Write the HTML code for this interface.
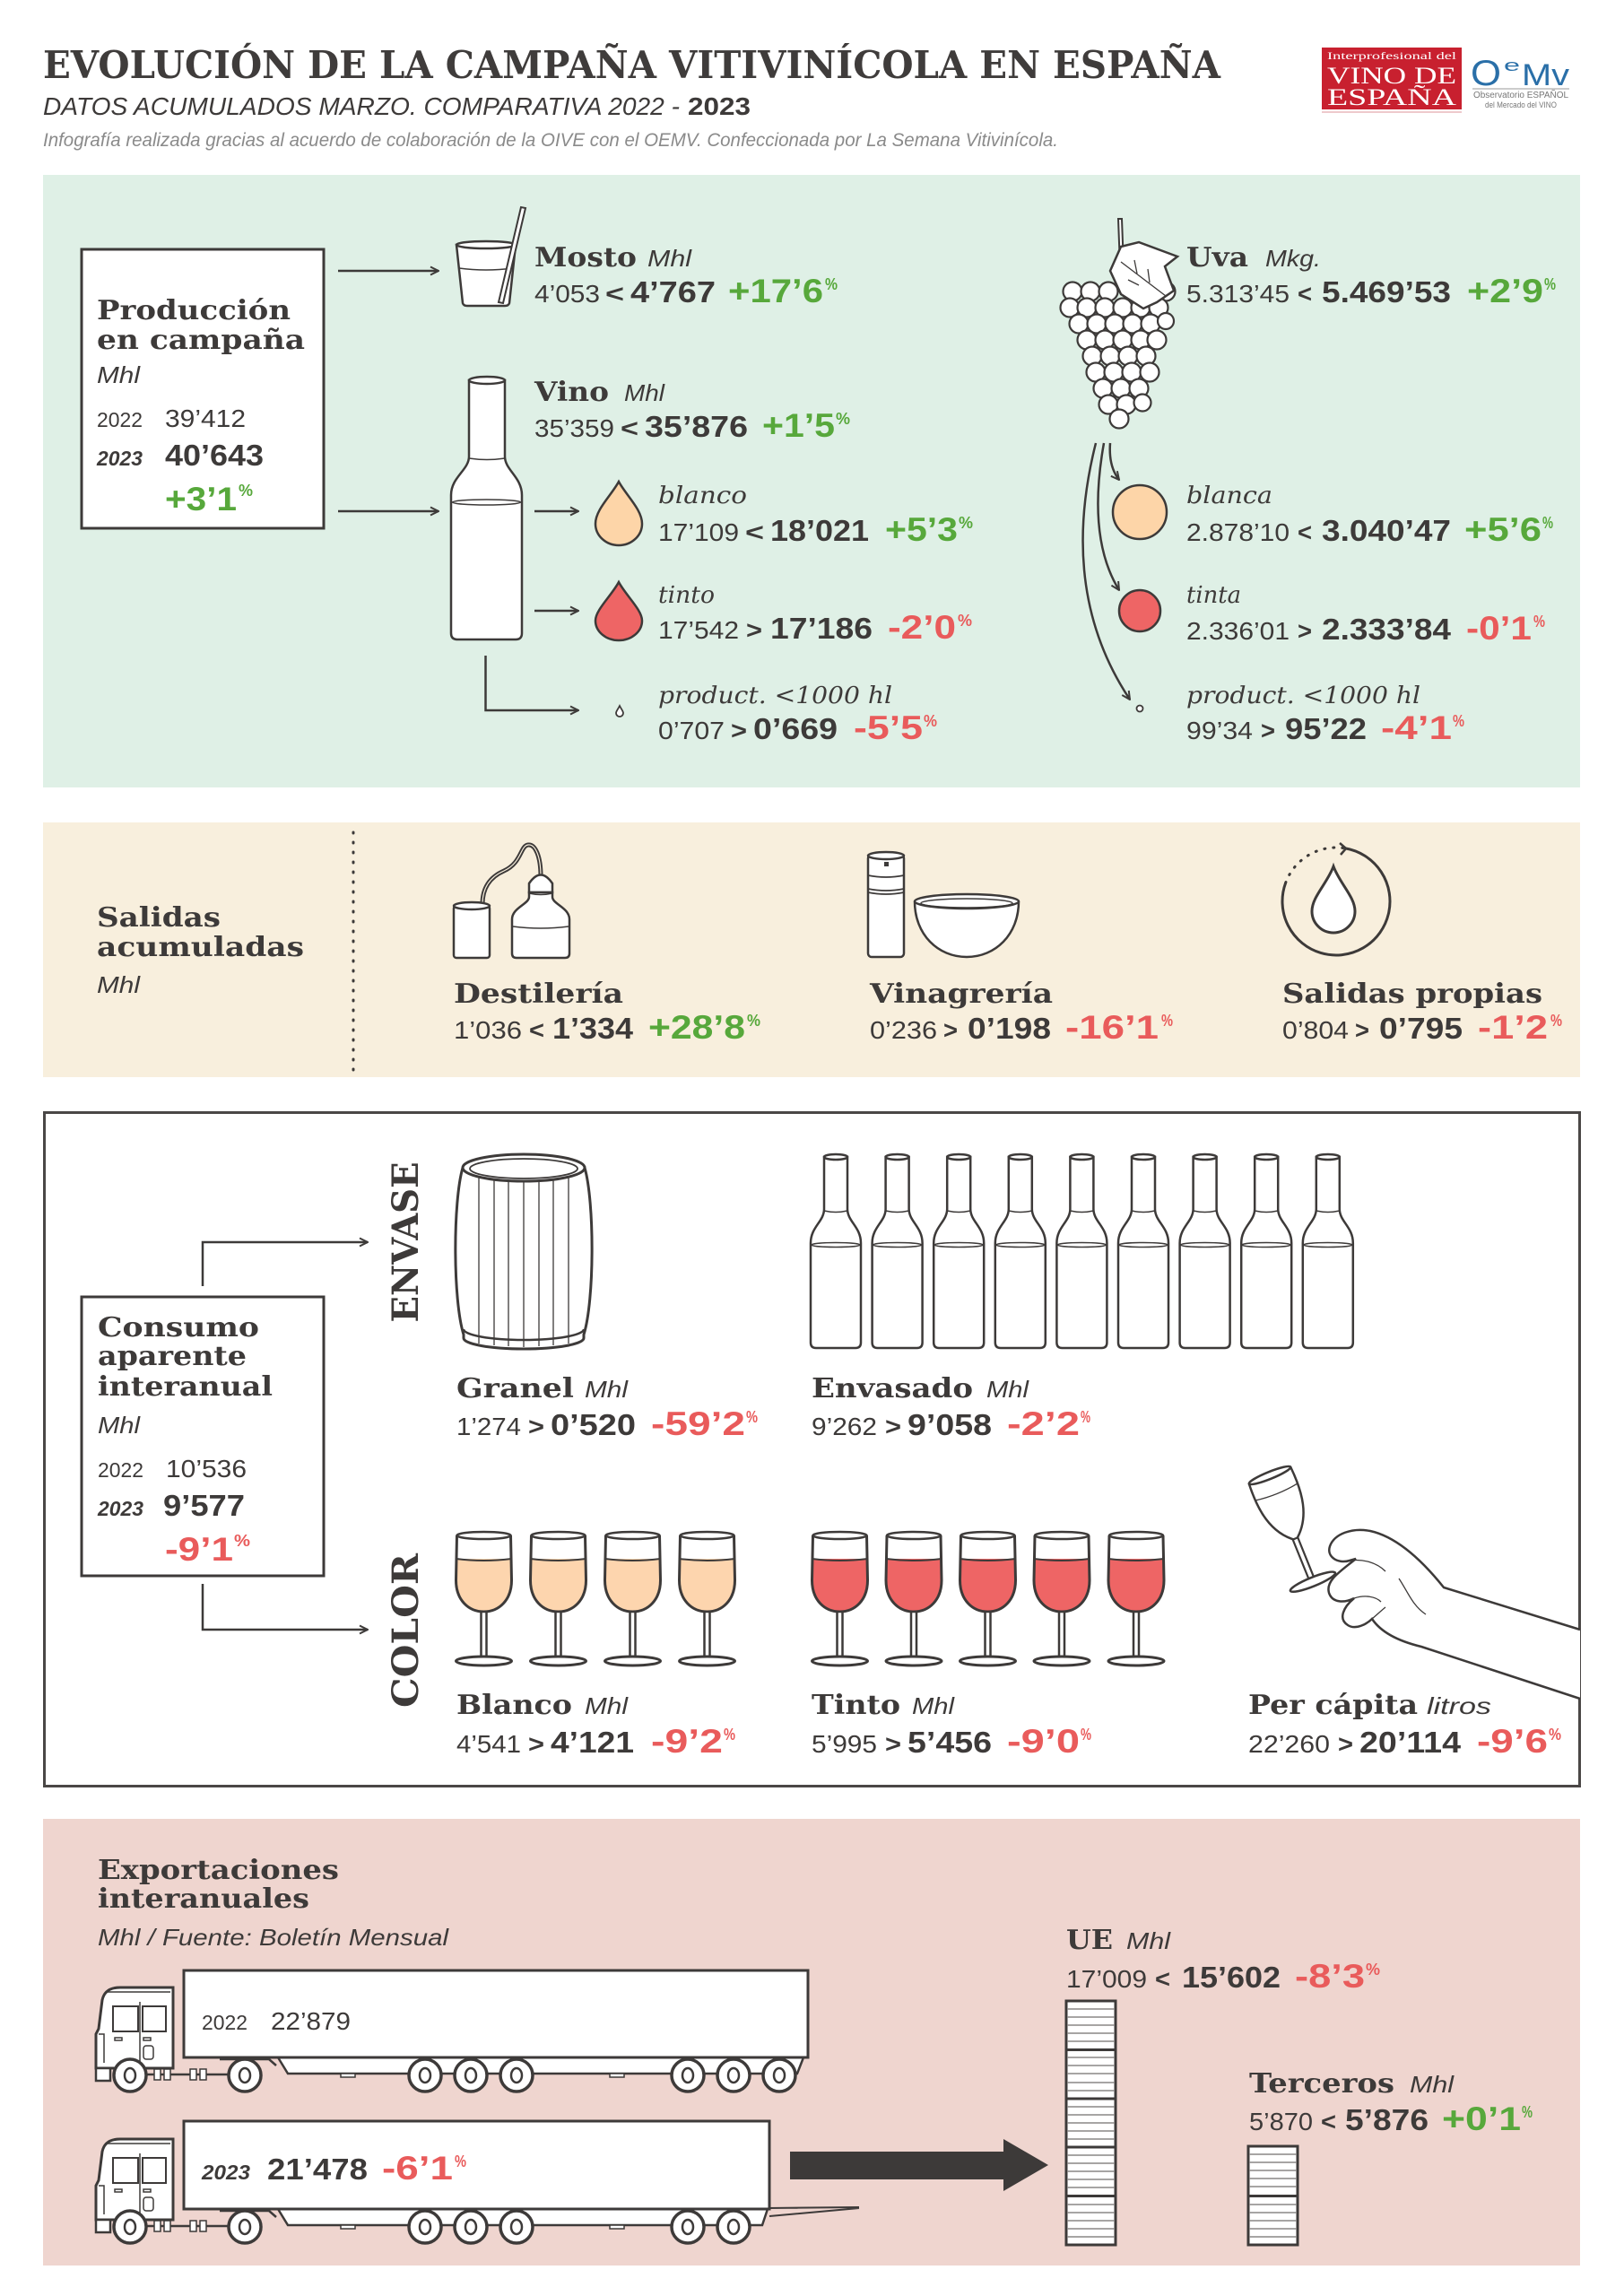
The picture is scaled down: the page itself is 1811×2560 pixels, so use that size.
<!DOCTYPE html>
<html><head><meta charset="utf-8">
<style>
html,body{margin:0;padding:0;background:#fff;overflow:hidden;}
svg{display:block;}
.h{font-family:"DejaVu Serif","Liberation Serif",serif;font-weight:bold;font-size:30px;fill:#3d3a39;}
.u{font-family:"Liberation Sans Narrow","Liberation Sans",sans-serif;font-style:italic;font-size:26px;fill:#3d3a39;}
.si{font-family:"DejaVu Serif","Liberation Serif",serif;font-style:italic;font-size:26px;fill:#3d3a39;}
.l{font-family:"Liberation Sans Narrow","Liberation Sans",sans-serif;font-size:28px;fill:#3d3a39;}
.s{font-family:"Liberation Sans Narrow","Liberation Sans",sans-serif;font-weight:bold;font-size:28px;fill:#3d3a39;}
.b{font-family:"Liberation Sans Narrow","Liberation Sans",sans-serif;font-weight:bold;font-size:33px;fill:#3d3a39;}
.g{font-family:"Liberation Sans Narrow","Liberation Sans",sans-serif;font-weight:bold;font-size:37px;fill:#57a83b;}
.r{font-family:"Liberation Sans Narrow","Liberation Sans",sans-serif;font-weight:bold;font-size:37px;fill:#e95b5b;}
.pg{font-family:"Liberation Sans Narrow","Liberation Sans",sans-serif;font-weight:bold;font-size:18px;fill:#57a83b;}
.pr{font-family:"Liberation Sans Narrow","Liberation Sans",sans-serif;font-weight:bold;font-size:18px;fill:#e95b5b;}
.yl{font-family:"Liberation Sans Narrow","Liberation Sans",sans-serif;font-size:23px;fill:#3d3a39;}
.yb{font-family:"Liberation Sans Narrow","Liberation Sans",sans-serif;font-weight:bold;font-style:italic;font-size:23px;fill:#3d3a39;}
.st{fill:none;stroke:#3d3a39;stroke-width:2.5;}
.sw{fill:#fff;stroke:#3d3a39;stroke-width:2.5;}
</style></head>
<body>
<svg width="1811" height="2560" viewBox="0 0 1811 2560" xmlns="http://www.w3.org/2000/svg">
<defs>
<marker id="ah" viewBox="0 0 12 12" refX="11" refY="6" markerWidth="12" markerHeight="12" markerUnits="userSpaceOnUse" orient="auto">
<path d="M2,1.5 L11,6 L2,10.5" fill="none" stroke="#3d3a39" stroke-width="2"/>
</marker>
<g id="bt">
<path d="M15,1290 L15,1348 C15,1362 0,1368 0,1386 L0,1497 Q0,1503 6,1503 L50,1503 Q56,1503 56,1497 L56,1386 C56,1368 41,1362 41,1348 L41,1290 Z" fill="#fff" stroke="#3d3a39" stroke-width="2.5"/>
<ellipse cx="28" cy="1290" rx="13" ry="3" fill="#fff" stroke="#3d3a39" stroke-width="2.5"/>
<path d="M15,1350 Q28,1353 41,1350" fill="none" stroke="#3d3a39" stroke-width="1.5"/>
<ellipse cx="28" cy="1388" rx="27" ry="2.5" fill="none" stroke="#3d3a39" stroke-width="1.5"/>
</g>
<g id="gw">
<path d="M-31,1738 L-31,1762 C-31,1784 -17,1797 0,1797 C17,1797 31,1784 31,1762 L31,1738 Z" fill="#fdd5ae"/>
<path d="M-31,1738 Q0,1742 31,1738" fill="none" stroke="#3d3a39" stroke-width="2"/>
<path d="M-30,1712 L-31,1762 C-31,1784 -17,1797 0,1797 C17,1797 31,1784 31,1762 L30,1712" fill="none" stroke="#3d3a39" stroke-width="3"/>
<ellipse cx="0" cy="1712" rx="30" ry="4" fill="#fff" stroke="#3d3a39" stroke-width="2.5"/>
<rect x="-3" y="1797" width="6" height="52" fill="#fff" stroke="#3d3a39" stroke-width="2.5"/>
<ellipse cx="0" cy="1852" rx="31" ry="5" fill="#fff" stroke="#3d3a39" stroke-width="3"/>
</g>
<g id="gr">
<path d="M-31,1738 L-31,1762 C-31,1784 -17,1797 0,1797 C17,1797 31,1784 31,1762 L31,1738 Z" fill="#ee6565"/>
<path d="M-31,1738 Q0,1742 31,1738" fill="none" stroke="#3d3a39" stroke-width="2"/>
<path d="M-30,1712 L-31,1762 C-31,1784 -17,1797 0,1797 C17,1797 31,1784 31,1762 L30,1712" fill="none" stroke="#3d3a39" stroke-width="3"/>
<ellipse cx="0" cy="1712" rx="30" ry="4" fill="#fff" stroke="#3d3a39" stroke-width="2.5"/>
<rect x="-3" y="1797" width="6" height="52" fill="#fff" stroke="#3d3a39" stroke-width="2.5"/>
<ellipse cx="0" cy="1852" rx="31" ry="5" fill="#fff" stroke="#3d3a39" stroke-width="3"/>
</g>
<g id="wh">
<circle cx="0" cy="0" r="18" fill="#fff" stroke="#3d3a39" stroke-width="3.5"/>
<ellipse cx="0" cy="0" rx="6" ry="8" fill="#fff" stroke="#3d3a39" stroke-width="2.5"/>
</g>
<g id="cab">
<path d="M193,2216 L134,2216 Q117,2216 114,2230 L110,2262 L107,2268 L107,2306 L193,2306 Z" fill="#fff" stroke="#3d3a39" stroke-width="3"/>
<path d="M120,2221 L190,2221" stroke="#3d3a39" stroke-width="1.5"/>
<rect x="126" y="2237" width="28" height="28" fill="#fff" stroke="#3d3a39" stroke-width="2"/>
<rect x="159" y="2237" width="26" height="28" fill="#fff" stroke="#3d3a39" stroke-width="2"/>
<path d="M156,2232 L156,2306" stroke="#3d3a39" stroke-width="1.5"/>
<rect x="128" y="2272" width="8" height="3" fill="none" stroke="#3d3a39" stroke-width="1.5"/>
<rect x="160" y="2272" width="8" height="3" fill="none" stroke="#3d3a39" stroke-width="1.5"/>
<rect x="160" y="2281" width="11" height="15" rx="3" fill="none" stroke="#3d3a39" stroke-width="1.5"/>
<path d="M110,2268 L116,2268 L116,2300" fill="none" stroke="#3d3a39" stroke-width="1.5"/>
<rect x="107" y="2306" width="16" height="14" fill="#fff" stroke="#3d3a39" stroke-width="2.5"/>
<path d="M163,2313 L255,2313" stroke="#3d3a39" stroke-width="2.5"/>
<rect x="172" y="2307" width="7" height="12" fill="#fff" stroke="#3d3a39" stroke-width="1.5"/>
<rect x="183" y="2307" width="7" height="12" fill="#fff" stroke="#3d3a39" stroke-width="1.5"/>
<rect x="212" y="2307" width="7" height="12" fill="#fff" stroke="#3d3a39" stroke-width="1.5"/>
<rect x="223" y="2307" width="7" height="12" fill="#fff" stroke="#3d3a39" stroke-width="1.5"/>
<path d="M245,2296 L300,2296 L308,2303" fill="none" stroke="#3d3a39" stroke-width="2.5"/>
<use href="#wh" x="145" y="2314"/>
<use href="#wh" x="273" y="2314"/>
</g>
</defs>

<!-- HEADER -->
<text x="48" y="87" font-family="DejaVu Serif, Liberation Serif, serif" font-weight="bold" font-size="42" fill="#3f3c3b" textLength="1313" lengthAdjust="spacingAndGlyphs">EVOLUCIÓN DE LA CAMPAÑA VITIVINÍCOLA EN ESPAÑA</text>
<text x="48" y="128" font-family="Liberation Sans Narrow, Liberation Sans, sans-serif" font-style="italic" font-size="28" fill="#3d3a39" textLength="710" lengthAdjust="spacingAndGlyphs">DATOS ACUMULADOS MARZO. COMPARATIVA 2022 -</text>
<text x="767" y="128" font-family="Liberation Sans Narrow, Liberation Sans, sans-serif" font-weight="bold" font-size="28" fill="#3d3a39" textLength="70" lengthAdjust="spacingAndGlyphs">2023</text>
<text x="48" y="163" font-family="Liberation Sans Narrow, Liberation Sans, sans-serif" font-style="italic" font-size="21" fill="#8a8a8a" textLength="1132" lengthAdjust="spacingAndGlyphs">Infografía realizada gracias al acuerdo de colaboración de la OIVE con el OEMV. Confeccionada por La Semana Vitivinícola.</text>

<!-- logos -->
<rect x="1474" y="53" width="156" height="69" fill="#c8202f"/>
<text x="1480" y="66" font-family="Liberation Serif, serif" font-size="12" fill="#fff" textLength="144" lengthAdjust="spacingAndGlyphs">Interprofesional del</text>
<text x="1480" y="93" font-family="Liberation Serif, serif" font-size="26" fill="#fff" textLength="144" lengthAdjust="spacingAndGlyphs">VINO DE</text>
<text x="1480" y="117" font-family="Liberation Serif, serif" font-size="26" fill="#fff" textLength="144" lengthAdjust="spacingAndGlyphs">ESPAÑA</text>
<path d="M1474,125 L1630,125" stroke="#e9b7bb" stroke-width="1.5"/>
<text x="1640" y="95" font-family="Liberation Sans, sans-serif" font-size="40" fill="#2a6fa8" textLength="34" lengthAdjust="spacingAndGlyphs">O</text>
<text x="1677" y="79" font-family="Liberation Sans, sans-serif" font-size="18" fill="#2a6fa8" textLength="18" lengthAdjust="spacingAndGlyphs">e</text>
<text x="1697" y="95" font-family="Liberation Sans, sans-serif" font-size="34" fill="#2a6fa8" textLength="53" lengthAdjust="spacingAndGlyphs">Mv</text>
<line x1="1642" y1="99" x2="1750" y2="99" stroke="#bbb" stroke-width="1.5"/>
<text x="1643" y="109" font-family="Liberation Sans Narrow, Liberation Sans, sans-serif" font-size="10" fill="#777" textLength="106" lengthAdjust="spacingAndGlyphs">Observatorio ESPAÑOL</text>
<text x="1656" y="120" font-family="Liberation Sans Narrow, Liberation Sans, sans-serif" font-size="9" fill="#777" textLength="80" lengthAdjust="spacingAndGlyphs">del Mercado del VINO</text>

<!-- SECTION 1 -->
<rect x="48" y="195" width="1714" height="683" fill="#dff0e6"/>
<rect x="91" y="278" width="270" height="311" fill="#fff" stroke="#3d3a39" stroke-width="3"/>
<text class="h" x="108" y="356" textLength="216" lengthAdjust="spacingAndGlyphs">Producción</text>
<text class="h" x="108" y="389" textLength="232" lengthAdjust="spacingAndGlyphs">en campaña</text>
<text class="u" x="108" y="427" textLength="48" lengthAdjust="spacingAndGlyphs">Mhl</text>
<text class="yl" x="108" y="476" textLength="51" lengthAdjust="spacingAndGlyphs">2022</text>
<text class="l" x="184" y="476" textLength="90" lengthAdjust="spacingAndGlyphs">39’412</text>
<text class="yb" x="108" y="519" textLength="51" lengthAdjust="spacingAndGlyphs">2023</text>
<text class="b" x="184" y="519" textLength="110" lengthAdjust="spacingAndGlyphs">40’643</text>
<text class="g" x="184" y="569" textLength="80" lengthAdjust="spacingAndGlyphs">+3’1</text>
<text class="pg" x="266" y="553" textLength="16" lengthAdjust="spacingAndGlyphs">%</text>

<line x1="377" y1="302" x2="489" y2="302" stroke="#3d3a39" stroke-width="2.5" marker-end="url(#ah)"/>
<line x1="377" y1="570" x2="489" y2="570" stroke="#3d3a39" stroke-width="2.5" marker-end="url(#ah)"/>

<!-- glass mosto -->
<path d="M509,273 L516,338 Q517,341 521,341 L563,341 Q567,341 568,338 L575,273 Z" fill="#fff" stroke="#3d3a39" stroke-width="2.5"/>
<path d="M512,299 Q542,303 572,299" fill="none" stroke="#3d3a39" stroke-width="1.5"/>
<ellipse cx="542" cy="273" rx="33" ry="4" fill="#fff" stroke="#3d3a39" stroke-width="2.5"/>
<path d="M581,231 L556,337 L561,338 L586,232 Z" fill="#fff" stroke="#3d3a39" stroke-width="2"/>

<!-- bottle vino -->
<path d="M523,424 L523,509 C523,524 503,532 503,552 L503,706 Q503,713 510,713 L575,713 Q582,713 582,706 L582,552 C582,532 563,524 563,509 L563,424 Z" fill="#fff" stroke="#3d3a39" stroke-width="2.5"/>
<ellipse cx="543" cy="424" rx="20" ry="4" fill="#fff" stroke="#3d3a39" stroke-width="2.5"/>
<path d="M523,511 Q543,514 563,511" fill="none" stroke="#3d3a39" stroke-width="1.5"/>
<ellipse cx="542.5" cy="560" rx="38" ry="3" fill="none" stroke="#3d3a39" stroke-width="1.5"/>

<line x1="596" y1="570" x2="645" y2="570" stroke="#3d3a39" stroke-width="2.5" marker-end="url(#ah)"/>
<line x1="596" y1="681" x2="645" y2="681" stroke="#3d3a39" stroke-width="2.5" marker-end="url(#ah)"/>
<polyline points="541.5,731 541.5,792 645,792" fill="none" stroke="#3d3a39" stroke-width="2.5" marker-end="url(#ah)"/>

<path d="M690,537 C682,552 664,568 664,584 A26,24 0 0 0 716,584 C716,568 698,552 690,537 Z" fill="#fdd5a8" stroke="#3d3a39" stroke-width="2.5"/>
<path d="M690,649 C682,664 664,680 664,692 A26,22 0 0 0 716,692 C716,680 698,664 690,649 Z" fill="#ee6565" stroke="#3d3a39" stroke-width="2.5"/>
<path d="M691,787 C689,791 687,793 687,795 A4,4 0 0 0 695,795 C695,793 693,791 691,787 Z" fill="#fff" stroke="#3d3a39" stroke-width="1.8"/>

<text class="h" x="596" y="297" textLength="114" lengthAdjust="spacingAndGlyphs">Mosto</text>
<text class="u" x="722" y="297" textLength="49" lengthAdjust="spacingAndGlyphs">Mhl</text>
<text class="l" x="596" y="337" textLength="73" lengthAdjust="spacingAndGlyphs">4’053</text>
<text class="s" x="675" y="337" textLength="21" lengthAdjust="spacingAndGlyphs">&lt;</text>
<text class="b" x="703" y="337" textLength="95" lengthAdjust="spacingAndGlyphs">4’767</text>
<text class="g" x="812" y="337" textLength="106" lengthAdjust="spacingAndGlyphs">+17’6</text>
<text class="pg" x="920" y="323" textLength="14" lengthAdjust="spacingAndGlyphs">%</text>

<text class="h" x="596" y="447" textLength="83" lengthAdjust="spacingAndGlyphs">Vino</text>
<text class="u" x="696" y="447" textLength="45" lengthAdjust="spacingAndGlyphs">Mhl</text>
<text class="l" x="596" y="487" textLength="89" lengthAdjust="spacingAndGlyphs">35’359</text>
<text class="s" x="692" y="487" textLength="20" lengthAdjust="spacingAndGlyphs">&lt;</text>
<text class="b" x="719" y="487" textLength="115" lengthAdjust="spacingAndGlyphs">35’876</text>
<text class="g" x="850" y="487" textLength="81" lengthAdjust="spacingAndGlyphs">+1’5</text>
<text class="pg" x="932" y="473" textLength="16" lengthAdjust="spacingAndGlyphs">%</text>

<text class="si" x="734" y="561" textLength="99" lengthAdjust="spacingAndGlyphs">blanco</text>
<text class="l" x="734" y="603" textLength="90" lengthAdjust="spacingAndGlyphs">17’109</text>
<text class="s" x="831" y="603" textLength="21" lengthAdjust="spacingAndGlyphs">&lt;</text>
<text class="b" x="859" y="603" textLength="110" lengthAdjust="spacingAndGlyphs">18’021</text>
<text class="g" x="987" y="603" textLength="81" lengthAdjust="spacingAndGlyphs">+5’3</text>
<text class="pg" x="1069" y="589" textLength="16" lengthAdjust="spacingAndGlyphs">%</text>

<text class="si" x="734" y="672" textLength="63" lengthAdjust="spacingAndGlyphs">tinto</text>
<text class="l" x="734" y="712" textLength="90" lengthAdjust="spacingAndGlyphs">17’542</text>
<text class="s" x="832" y="712" textLength="18" lengthAdjust="spacingAndGlyphs">&gt;</text>
<text class="b" x="859" y="712" textLength="114" lengthAdjust="spacingAndGlyphs">17’186</text>
<text class="r" x="990" y="712" textLength="76" lengthAdjust="spacingAndGlyphs">-2’0</text>
<text class="pr" x="1068" y="698" textLength="16" lengthAdjust="spacingAndGlyphs">%</text>

<text class="si" x="734" y="784" textLength="261" lengthAdjust="spacingAndGlyphs">product. &lt;1000 hl</text>
<text class="l" x="734" y="824" textLength="74" lengthAdjust="spacingAndGlyphs">0’707</text>
<text class="s" x="815" y="824" textLength="18" lengthAdjust="spacingAndGlyphs">&gt;</text>
<text class="b" x="840" y="824" textLength="94" lengthAdjust="spacingAndGlyphs">0’669</text>
<text class="r" x="952" y="824" textLength="77" lengthAdjust="spacingAndGlyphs">-5’5</text>
<text class="pr" x="1030" y="810" textLength="15" lengthAdjust="spacingAndGlyphs">%</text>

<!-- grapes -->
<path d="M1247,244 L1250,324 L1254,324 L1251,244 Z" fill="#fff" stroke="#3d3a39" stroke-width="2"/>
<g fill="#fff" stroke="#3d3a39" stroke-width="2.2">
<circle cx="1196" cy="325" r="10.5"/><circle cx="1216" cy="325" r="10.5"/><circle cx="1236" cy="325" r="10.5"/><circle cx="1280" cy="325" r="10.5"/><circle cx="1300" cy="325" r="10.5"/>
<circle cx="1193" cy="343" r="10.5"/><circle cx="1212" cy="343" r="10.5"/><circle cx="1232" cy="343" r="10.5"/><circle cx="1252" cy="343" r="10.5"/><circle cx="1272" cy="343" r="10.5"/><circle cx="1292" cy="343" r="10.5"/>
<circle cx="1203" cy="361" r="10.5"/><circle cx="1223" cy="361" r="10.5"/><circle cx="1243" cy="361" r="10.5"/><circle cx="1263" cy="361" r="10.5"/><circle cx="1283" cy="361" r="10.5"/><circle cx="1300" cy="358" r="9"/>
<circle cx="1212" cy="379" r="10.5"/><circle cx="1232" cy="379" r="10.5"/><circle cx="1252" cy="379" r="10.5"/><circle cx="1272" cy="379" r="10.5"/><circle cx="1290" cy="379" r="10.5"/>
<circle cx="1218" cy="397" r="10.5"/><circle cx="1238" cy="397" r="10.5"/><circle cx="1258" cy="397" r="10.5"/><circle cx="1278" cy="397" r="10.5"/>
<circle cx="1222" cy="415" r="10.5"/><circle cx="1242" cy="415" r="10.5"/><circle cx="1262" cy="415" r="10.5"/><circle cx="1282" cy="415" r="10.5"/>
<circle cx="1230" cy="433" r="10.5"/><circle cx="1250" cy="433" r="10.5"/><circle cx="1270" cy="433" r="10.5"/>
<circle cx="1236" cy="451" r="10.5"/><circle cx="1256" cy="451" r="10.5"/><circle cx="1274" cy="449" r="9.5"/>
<circle cx="1248" cy="467" r="10.5"/>
</g>
<path d="M1250,275 L1270,270 L1313,286 L1299,297 L1309,324 L1290,337 L1275,344 L1250,328 L1238,302 Z" fill="#fff" stroke="#3d3a39" stroke-width="2.5"/>
<path d="M1250,292 L1300,330 M1265,290 L1268,305 M1280,300 L1282,315 M1258,312 L1270,318" fill="none" stroke="#3d3a39" stroke-width="1.3"/>

<path d="M1238,494 Q1236,520 1248,535" class="st" marker-end="url(#ah)"/>
<path d="M1231,494 Q1212,600 1248,658" class="st" marker-end="url(#ah)"/>
<path d="M1222,494 Q1180,660 1260,780" class="st" marker-end="url(#ah)"/>
<circle cx="1271" cy="571" r="30" fill="#fdd5a8" stroke="#3d3a39" stroke-width="2.5"/>
<circle cx="1271" cy="681" r="23" fill="#ee6565" stroke="#3d3a39" stroke-width="2.5"/>
<circle cx="1271" cy="790" r="3.5" fill="#fff" stroke="#3d3a39" stroke-width="1.8"/>

<text class="h" x="1323" y="297" textLength="69" lengthAdjust="spacingAndGlyphs">Uva</text>
<text class="u" x="1411" y="297" textLength="62" lengthAdjust="spacingAndGlyphs">Mkg.</text>
<text class="l" x="1323" y="337" textLength="115" lengthAdjust="spacingAndGlyphs">5.313’45</text>
<text class="s" x="1447" y="337" textLength="16" lengthAdjust="spacingAndGlyphs">&lt;</text>
<text class="b" x="1474" y="337" textLength="144" lengthAdjust="spacingAndGlyphs">5.469’53</text>
<text class="g" x="1636" y="337" textLength="85" lengthAdjust="spacingAndGlyphs">+2’9</text>
<text class="pg" x="1722" y="323" textLength="13" lengthAdjust="spacingAndGlyphs">%</text>

<text class="si" x="1323" y="561" textLength="96" lengthAdjust="spacingAndGlyphs">blanca</text>
<text class="l" x="1323" y="603" textLength="115" lengthAdjust="spacingAndGlyphs">2.878’10</text>
<text class="s" x="1447" y="603" textLength="16" lengthAdjust="spacingAndGlyphs">&lt;</text>
<text class="b" x="1474" y="603" textLength="144" lengthAdjust="spacingAndGlyphs">3.040’47</text>
<text class="g" x="1633" y="603" textLength="86" lengthAdjust="spacingAndGlyphs">+5’6</text>
<text class="pg" x="1720" y="589" textLength="12" lengthAdjust="spacingAndGlyphs">%</text>

<text class="si" x="1323" y="672" textLength="61" lengthAdjust="spacingAndGlyphs">tinta</text>
<text class="l" x="1323" y="713" textLength="115" lengthAdjust="spacingAndGlyphs">2.336’01</text>
<text class="s" x="1447" y="713" textLength="16" lengthAdjust="spacingAndGlyphs">&gt;</text>
<text class="b" x="1474" y="713" textLength="144" lengthAdjust="spacingAndGlyphs">2.333’84</text>
<text class="r" x="1635" y="713" textLength="73" lengthAdjust="spacingAndGlyphs">-0’1</text>
<text class="pr" x="1710" y="699" textLength="13" lengthAdjust="spacingAndGlyphs">%</text>

<text class="si" x="1323" y="784" textLength="261" lengthAdjust="spacingAndGlyphs">product. &lt;1000 hl</text>
<text class="l" x="1323" y="824" textLength="74" lengthAdjust="spacingAndGlyphs">99’34</text>
<text class="s" x="1406" y="824" textLength="16" lengthAdjust="spacingAndGlyphs">&gt;</text>
<text class="b" x="1433" y="824" textLength="91" lengthAdjust="spacingAndGlyphs">95’22</text>
<text class="r" x="1540" y="824" textLength="79" lengthAdjust="spacingAndGlyphs">-4’1</text>
<text class="pr" x="1620" y="810" textLength="13" lengthAdjust="spacingAndGlyphs">%</text>

<!-- SECTION 2 -->
<rect x="48" y="917" width="1714" height="284" fill="#f8efdd"/>
<line x1="394" y1="928" x2="394" y2="1197" stroke="#3d3a39" stroke-width="3" stroke-dasharray="1 10" stroke-linecap="round"/>
<text class="h" x="108" y="1033" textLength="138" lengthAdjust="spacingAndGlyphs">Salidas</text>
<text class="h" x="108" y="1066" textLength="231" lengthAdjust="spacingAndGlyphs">acumuladas</text>
<text class="u" x="108" y="1107" textLength="48" lengthAdjust="spacingAndGlyphs">Mhl</text>

<!-- destileria icon -->
<path d="M603,977 C603,955 597,941 589,942 C580,943 582,962 562,971 C546,978 538,990 538,1008" fill="none" stroke="#3d3a39" stroke-width="5"/>
<path d="M603,977 C603,955 597,941 589,942 C580,943 582,962 562,971 C546,978 538,990 538,1008" fill="none" stroke="#f8efdd" stroke-width="1.2"/>
<rect x="506" y="1010" width="40" height="58" rx="3" fill="#fff" stroke="#3d3a39" stroke-width="2.5"/>
<ellipse cx="526" cy="1010" rx="20" ry="4" fill="#fff" stroke="#3d3a39" stroke-width="2.5"/>
<path d="M590,995 L590,985 Q603,966 616,985 L616,995 Z" fill="#fff" stroke="#3d3a39" stroke-width="2.5"/>
<path d="M590,995 L590,1000 C590,1008 571,1012 571,1025 L571,1063 Q571,1068 576,1068 L630,1068 Q635,1068 635,1063 L635,1025 C635,1012 616,1008 616,1000 L616,995 Z" fill="#fff" stroke="#3d3a39" stroke-width="2.5"/>
<path d="M590,996 Q603,999 616,996" fill="none" stroke="#3d3a39" stroke-width="1.5"/>
<path d="M572,1033 Q603,1037 634,1033" fill="none" stroke="#3d3a39" stroke-width="1.5"/>

<!-- vinagreria icon -->
<rect x="968" y="953" width="40" height="114" rx="4" fill="#fff" stroke="#3d3a39" stroke-width="2.5"/>
<ellipse cx="988" cy="954" rx="20" ry="4" fill="#fff" stroke="#3d3a39" stroke-width="2.5"/>
<path d="M968,976 Q988,980 1008,976 M968,991 Q988,995 1008,991 M968,995 Q988,999 1008,995" fill="none" stroke="#3d3a39" stroke-width="1.8"/>
<rect x="986" y="961" width="5" height="5" fill="#3d3a39"/>
<path d="M1020,1005 C1020,1042 1046,1067 1078,1067 C1110,1067 1136,1042 1136,1005" fill="#fff" stroke="#3d3a39" stroke-width="2.5"/>
<ellipse cx="1078" cy="1005" rx="58" ry="8" fill="#fff" stroke="#3d3a39" stroke-width="2.5"/>
<ellipse cx="1078" cy="1007" rx="51" ry="5" fill="none" stroke="#3d3a39" stroke-width="1.5"/>

<!-- salidas propias icon -->
<path d="M1500.4,945.9 A60,60 0 1 1 1433.6,984.5" fill="none" stroke="#3d3a39" stroke-width="3"/>
<path d="M1433.6,984.5 A60,60 0 0 1 1500.4,945.9" fill="none" stroke="#3d3a39" stroke-width="3" stroke-dasharray="1 9" stroke-linecap="round"/>
<path d="M1494,940 L1501,946 L1495,953" fill="none" stroke="#3d3a39" stroke-width="2.5"/>
<path d="M1487,966 C1480,985 1463,1000 1463,1016 A24,24 0 0 0 1511,1016 C1511,1000 1494,985 1487,966 Z" fill="#fff" stroke="#3d3a39" stroke-width="3"/>

<text class="h" x="506" y="1118" textLength="189" lengthAdjust="spacingAndGlyphs">Destilería</text>
<text class="l" x="506" y="1158" textLength="76" lengthAdjust="spacingAndGlyphs">1’036</text>
<text class="s" x="590" y="1158" textLength="17" lengthAdjust="spacingAndGlyphs">&lt;</text>
<text class="b" x="616" y="1158" textLength="90" lengthAdjust="spacingAndGlyphs">1’334</text>
<text class="g" x="723" y="1158" textLength="108" lengthAdjust="spacingAndGlyphs">+28’8</text>
<text class="pg" x="833" y="1144" textLength="15" lengthAdjust="spacingAndGlyphs">%</text>

<text class="h" x="970" y="1118" textLength="204" lengthAdjust="spacingAndGlyphs">Vinagrería</text>
<text class="l" x="970" y="1158" textLength="75" lengthAdjust="spacingAndGlyphs">0’236</text>
<text class="s" x="1052" y="1158" textLength="16" lengthAdjust="spacingAndGlyphs">&gt;</text>
<text class="b" x="1079" y="1158" textLength="93" lengthAdjust="spacingAndGlyphs">0’198</text>
<text class="r" x="1188" y="1158" textLength="104" lengthAdjust="spacingAndGlyphs">-16’1</text>
<text class="pr" x="1295" y="1144" textLength="13" lengthAdjust="spacingAndGlyphs">%</text>

<text class="h" x="1430" y="1118" textLength="290" lengthAdjust="spacingAndGlyphs">Salidas propias</text>
<text class="l" x="1430" y="1158" textLength="74" lengthAdjust="spacingAndGlyphs">0’804</text>
<text class="s" x="1511" y="1158" textLength="16" lengthAdjust="spacingAndGlyphs">&gt;</text>
<text class="b" x="1538" y="1158" textLength="93" lengthAdjust="spacingAndGlyphs">0’795</text>
<text class="r" x="1648" y="1158" textLength="78" lengthAdjust="spacingAndGlyphs">-1’2</text>
<text class="pr" x="1729" y="1144" textLength="13" lengthAdjust="spacingAndGlyphs">%</text>

<!-- SECTION 3 -->
<rect x="49.5" y="1240.5" width="1712" height="751" fill="#fff" stroke="#4a4746" stroke-width="3"/>
<rect x="91" y="1446" width="270" height="311" fill="#fff" stroke="#3d3a39" stroke-width="3"/>
<text class="h" x="109" y="1490" textLength="180" lengthAdjust="spacingAndGlyphs">Consumo</text>
<text class="h" x="109" y="1522" textLength="166" lengthAdjust="spacingAndGlyphs">aparente</text>
<text class="h" x="109" y="1556" textLength="195" lengthAdjust="spacingAndGlyphs">interanual</text>
<text class="u" x="109" y="1598" textLength="47" lengthAdjust="spacingAndGlyphs">Mhl</text>
<text class="yl" x="109" y="1647" textLength="51" lengthAdjust="spacingAndGlyphs">2022</text>
<text class="l" x="185" y="1647" textLength="90" lengthAdjust="spacingAndGlyphs">10’536</text>
<text class="yb" x="109" y="1690" textLength="51" lengthAdjust="spacingAndGlyphs">2023</text>
<text class="b" x="182" y="1690" textLength="91" lengthAdjust="spacingAndGlyphs">9’577</text>
<text class="r" x="184" y="1740" textLength="76" lengthAdjust="spacingAndGlyphs">-9’1</text>
<text class="pr" x="261" y="1724" textLength="18" lengthAdjust="spacingAndGlyphs">%</text>

<polyline points="226,1434 226,1385 410,1385" fill="none" stroke="#3d3a39" stroke-width="2.5" marker-end="url(#ah)"/>
<polyline points="226,1766 226,1817 410,1817" fill="none" stroke="#3d3a39" stroke-width="2.5" marker-end="url(#ah)"/>

<text transform="translate(466,1385) rotate(-90)" text-anchor="middle" font-family="DejaVu Serif, Liberation Serif, serif" font-weight="bold" font-size="40" fill="#3d3a39" textLength="179" lengthAdjust="spacingAndGlyphs">ENVASE</text>
<text transform="translate(466,1818) rotate(-90)" text-anchor="middle" font-family="DejaVu Serif, Liberation Serif, serif" font-weight="bold" font-size="40" fill="#3d3a39" textLength="172" lengthAdjust="spacingAndGlyphs">COLOR</text>

<!-- barrel -->
<path d="M516,1302 C505,1340 505,1450 517,1488 L517,1492 A67,12 0 0 0 651,1492 L651,1488 C663,1450 663,1340 652,1302 Z" fill="#fff" stroke="#3d3a39" stroke-width="3"/>
<path d="M534,1312 L534,1498 M551,1315 L551,1500 M567,1316 L567,1501 M584,1317 L584,1502 M601,1316 L601,1501 M617,1315 L617,1500 M634,1312 L634,1498" fill="none" stroke="#3d3a39" stroke-width="1.3"/>
<path d="M517,1482 A67,12 0 0 0 651,1482" fill="none" stroke="#3d3a39" stroke-width="2.5"/>
<ellipse cx="584" cy="1302" rx="68" ry="15" fill="#fff" stroke="#3d3a39" stroke-width="3"/>
<ellipse cx="584" cy="1303" rx="60" ry="11" fill="none" stroke="#3d3a39" stroke-width="1.8"/>

<!-- bottles -->
<use href="#bt" x="904"/><use href="#bt" x="972.6"/><use href="#bt" x="1041.2"/><use href="#bt" x="1109.8"/><use href="#bt" x="1178.4"/><use href="#bt" x="1247"/><use href="#bt" x="1315.6"/><use href="#bt" x="1384.2"/><use href="#bt" x="1452.8"/>

<text class="h" x="509" y="1558" textLength="131" lengthAdjust="spacingAndGlyphs">Granel</text>
<text class="u" x="652" y="1558" textLength="48" lengthAdjust="spacingAndGlyphs">Mhl</text>
<text class="l" x="509" y="1600" textLength="72" lengthAdjust="spacingAndGlyphs">1’274</text>
<text class="s" x="589" y="1600" textLength="18" lengthAdjust="spacingAndGlyphs">&gt;</text>
<text class="b" x="614" y="1600" textLength="95" lengthAdjust="spacingAndGlyphs">0’520</text>
<text class="r" x="726" y="1600" textLength="105" lengthAdjust="spacingAndGlyphs">-59’2</text>
<text class="pr" x="832" y="1586" textLength="13" lengthAdjust="spacingAndGlyphs">%</text>

<text class="h" x="905" y="1558" textLength="180" lengthAdjust="spacingAndGlyphs">Envasado</text>
<text class="u" x="1100" y="1558" textLength="47" lengthAdjust="spacingAndGlyphs">Mhl</text>
<text class="l" x="905" y="1600" textLength="73" lengthAdjust="spacingAndGlyphs">9’262</text>
<text class="s" x="987" y="1600" textLength="18" lengthAdjust="spacingAndGlyphs">&gt;</text>
<text class="b" x="1012" y="1600" textLength="94" lengthAdjust="spacingAndGlyphs">9’058</text>
<text class="r" x="1123" y="1600" textLength="81" lengthAdjust="spacingAndGlyphs">-2’2</text>
<text class="pr" x="1205" y="1586" textLength="11" lengthAdjust="spacingAndGlyphs">%</text>

<!-- glasses -->
<use href="#gw" x="539.5"/><use href="#gw" x="622.5"/><use href="#gw" x="705.5"/><use href="#gw" x="788.5"/>
<use href="#gr" x="936.5"/><use href="#gr" x="1019"/><use href="#gr" x="1101.5"/><use href="#gr" x="1184"/><use href="#gr" x="1267"/>

<!-- hand with glass -->
<g transform="translate(1416,1645) rotate(-22)">
<path d="M-25,0 C-27,30 -24,60 0,78 C24,60 27,30 25,0" fill="#fff" stroke="#3d3a39" stroke-width="2.5"/>
<path d="M-25,20 Q0,24 25,20" fill="none" stroke="#3d3a39" stroke-width="1.3"/>
<ellipse cx="0" cy="0" rx="25" ry="4" fill="#fff" stroke="#3d3a39" stroke-width="2.5"/>
<rect x="-3" y="76" width="6" height="50" fill="#fff" stroke="#3d3a39" stroke-width="2.2"/>
<ellipse cx="0" cy="128" rx="27" ry="5" fill="#fff" stroke="#3d3a39" stroke-width="2.5"/>
</g>
<path d="M1762,1817 L1610,1770 C1590,1745 1560,1714 1528,1707 C1508,1703 1488,1710 1483,1724 C1479,1736 1492,1744 1505,1740 L1512,1738 C1495,1752 1478,1762 1482,1776 C1486,1788 1500,1787 1510,1782 C1498,1792 1492,1805 1503,1812 C1512,1818 1525,1810 1530,1805 C1540,1820 1560,1830 1585,1836 L1762,1894" fill="#fff" stroke="#3d3a39" stroke-width="2.5"/>
<path d="M1505,1740 C1520,1738 1535,1742 1545,1752 M1510,1782 C1522,1778 1534,1780 1540,1786 M1530,1805 C1536,1800 1540,1796 1545,1792 M1560,1760 C1570,1775 1575,1790 1590,1800" fill="none" stroke="#3d3a39" stroke-width="1.3"/>

<text class="h" x="509" y="1911" textLength="129" lengthAdjust="spacingAndGlyphs">Blanco</text>
<text class="u" x="652" y="1911" textLength="48" lengthAdjust="spacingAndGlyphs">Mhl</text>
<text class="l" x="509" y="1954" textLength="72" lengthAdjust="spacingAndGlyphs">4’541</text>
<text class="s" x="589" y="1954" textLength="18" lengthAdjust="spacingAndGlyphs">&gt;</text>
<text class="b" x="614" y="1954" textLength="93" lengthAdjust="spacingAndGlyphs">4’121</text>
<text class="r" x="726" y="1954" textLength="80" lengthAdjust="spacingAndGlyphs">-9’2</text>
<text class="pr" x="807" y="1940" textLength="13" lengthAdjust="spacingAndGlyphs">%</text>

<text class="h" x="905" y="1911" textLength="99" lengthAdjust="spacingAndGlyphs">Tinto</text>
<text class="u" x="1017" y="1911" textLength="47" lengthAdjust="spacingAndGlyphs">Mhl</text>
<text class="l" x="905" y="1954" textLength="73" lengthAdjust="spacingAndGlyphs">5’995</text>
<text class="s" x="987" y="1954" textLength="18" lengthAdjust="spacingAndGlyphs">&gt;</text>
<text class="b" x="1012" y="1954" textLength="94" lengthAdjust="spacingAndGlyphs">5’456</text>
<text class="r" x="1123" y="1954" textLength="81" lengthAdjust="spacingAndGlyphs">-9’0</text>
<text class="pr" x="1205" y="1940" textLength="12" lengthAdjust="spacingAndGlyphs">%</text>

<text class="h" x="1392" y="1911" textLength="189" lengthAdjust="spacingAndGlyphs">Per cápita</text>
<text class="u" x="1591" y="1911" textLength="72" lengthAdjust="spacingAndGlyphs">litros</text>
<text class="l" x="1392" y="1954" textLength="91" lengthAdjust="spacingAndGlyphs">22’260</text>
<text class="s" x="1492" y="1954" textLength="17" lengthAdjust="spacingAndGlyphs">&gt;</text>
<text class="b" x="1516" y="1954" textLength="113" lengthAdjust="spacingAndGlyphs">20’114</text>
<text class="r" x="1647" y="1954" textLength="79" lengthAdjust="spacingAndGlyphs">-9’6</text>
<text class="pr" x="1727" y="1940" textLength="14" lengthAdjust="spacingAndGlyphs">%</text>

<!-- SECTION 4 -->
<rect x="48" y="2028" width="1714" height="498" fill="#efd5cf"/>
<text class="h" x="109" y="2095" textLength="269" lengthAdjust="spacingAndGlyphs">Exportaciones</text>
<text class="h" x="109" y="2127" textLength="236" lengthAdjust="spacingAndGlyphs">interanuales</text>
<text class="u" x="109" y="2169" textLength="391" lengthAdjust="spacingAndGlyphs">Mhl / Fuente: Boletín Mensual</text>

<!-- truck 1 -->
<path d="M310,2294 L321,2312 L889,2312 L896,2294" fill="#fff" stroke="#3d3a39" stroke-width="2.5"/>
<rect x="380" y="2312" width="16" height="4" fill="#fff" stroke="#3d3a39" stroke-width="1.5"/>
<rect x="680" y="2312" width="16" height="4" fill="#fff" stroke="#3d3a39" stroke-width="1.5"/>
<rect x="205" y="2197" width="696" height="97" fill="#fff" stroke="#3d3a39" stroke-width="3"/>
<use href="#cab"/>
<use href="#wh" x="474" y="2314"/><use href="#wh" x="525" y="2314"/><use href="#wh" x="576" y="2314"/>
<use href="#wh" x="767" y="2314"/><use href="#wh" x="818" y="2314"/><use href="#wh" x="869" y="2314"/>
<text class="yl" x="225" y="2263" textLength="51" lengthAdjust="spacingAndGlyphs">2022</text>
<text class="l" x="302" y="2263" textLength="89" lengthAdjust="spacingAndGlyphs">22’879</text>

<!-- truck 2 -->
<g transform="translate(0,169)">
<path d="M310,2294 L321,2312 L850,2312 L856,2294" fill="#fff" stroke="#3d3a39" stroke-width="2.5"/>
<rect x="380" y="2312" width="16" height="4" fill="#fff" stroke="#3d3a39" stroke-width="1.5"/>
<rect x="680" y="2312" width="16" height="4" fill="#fff" stroke="#3d3a39" stroke-width="1.5"/>
<path d="M856,2293 L958,2292 M858,2302 L958,2293" fill="none" stroke="#3d3a39" stroke-width="2"/>
<rect x="205" y="2196" width="653" height="98" fill="#fff" stroke="#3d3a39" stroke-width="3"/>
<use href="#cab"/>
<use href="#wh" x="474" y="2314"/><use href="#wh" x="525" y="2314"/><use href="#wh" x="576" y="2314"/>
<use href="#wh" x="767" y="2314"/><use href="#wh" x="818" y="2314"/>
</g>
<text class="yb" x="225" y="2430" textLength="54" lengthAdjust="spacingAndGlyphs">2023</text>
<text class="b" x="298" y="2430" textLength="112" lengthAdjust="spacingAndGlyphs">21’478</text>
<text class="r" x="426" y="2430" textLength="79" lengthAdjust="spacingAndGlyphs">-6’1</text>
<text class="pr" x="507" y="2416" textLength="13" lengthAdjust="spacingAndGlyphs">%</text>

<!-- big arrow -->
<polygon points="881,2399 1119,2399 1119,2385 1169,2414 1119,2443 1119,2430 881,2430" fill="#3d3a39"/>

<!-- UE bar -->
<rect x="1189" y="2231" width="55" height="272" fill="#fff" stroke="#3d3a39" stroke-width="3"/>
<g stroke="#8a8786" stroke-width="1.5">
<line x1="1190" x2="1243" y1="2240" y2="2240"/><line x1="1190" x2="1243" y1="2249" y2="2249"/><line x1="1190" x2="1243" y1="2258" y2="2258"/><line x1="1190" x2="1243" y1="2267" y2="2267"/><line x1="1190" x2="1243" y1="2276" y2="2276"/>
<line x1="1190" x2="1243" y1="2294" y2="2294"/><line x1="1190" x2="1243" y1="2303" y2="2303"/><line x1="1190" x2="1243" y1="2312" y2="2312"/><line x1="1190" x2="1243" y1="2322" y2="2322"/><line x1="1190" x2="1243" y1="2331" y2="2331"/>
<line x1="1190" x2="1243" y1="2349" y2="2349"/><line x1="1190" x2="1243" y1="2358" y2="2358"/><line x1="1190" x2="1243" y1="2367" y2="2367"/><line x1="1190" x2="1243" y1="2376" y2="2376"/><line x1="1190" x2="1243" y1="2385" y2="2385"/>
<line x1="1190" x2="1243" y1="2403" y2="2403"/><line x1="1190" x2="1243" y1="2412" y2="2412"/><line x1="1190" x2="1243" y1="2421" y2="2421"/><line x1="1190" x2="1243" y1="2430" y2="2430"/><line x1="1190" x2="1243" y1="2439" y2="2439"/>
<line x1="1190" x2="1243" y1="2458" y2="2458"/><line x1="1190" x2="1243" y1="2467" y2="2467"/><line x1="1190" x2="1243" y1="2476" y2="2476"/><line x1="1190" x2="1243" y1="2485" y2="2485"/><line x1="1190" x2="1243" y1="2494" y2="2494"/>
</g>
<g stroke="#3d3a39" stroke-width="3">
<line x1="1189" x2="1244" y1="2285.5" y2="2285.5"/><line x1="1189" x2="1244" y1="2340" y2="2340"/><line x1="1189" x2="1244" y1="2394" y2="2394"/><line x1="1189" x2="1244" y1="2448.5" y2="2448.5"/>
</g>

<!-- Terceros bar -->
<rect x="1392" y="2393" width="55" height="110" fill="#fff" stroke="#3d3a39" stroke-width="3"/>
<g stroke="#8a8786" stroke-width="1.5">
<line x1="1393" x2="1446" y1="2402" y2="2402"/><line x1="1393" x2="1446" y1="2411" y2="2411"/><line x1="1393" x2="1446" y1="2420" y2="2420"/><line x1="1393" x2="1446" y1="2429" y2="2429"/><line x1="1393" x2="1446" y1="2438" y2="2438"/>
<line x1="1393" x2="1446" y1="2458" y2="2458"/><line x1="1393" x2="1446" y1="2467" y2="2467"/><line x1="1393" x2="1446" y1="2476" y2="2476"/><line x1="1393" x2="1446" y1="2485" y2="2485"/><line x1="1393" x2="1446" y1="2494" y2="2494"/>
</g>
<line x1="1392" x2="1447" y1="2448.5" y2="2448.5" stroke="#3d3a39" stroke-width="3"/>

<text class="h" x="1189" y="2173" textLength="52" lengthAdjust="spacingAndGlyphs">UE</text>
<text class="u" x="1256" y="2173" textLength="49" lengthAdjust="spacingAndGlyphs">Mhl</text>
<text class="l" x="1189" y="2216" textLength="90" lengthAdjust="spacingAndGlyphs">17’009</text>
<text class="s" x="1288" y="2216" textLength="17" lengthAdjust="spacingAndGlyphs">&lt;</text>
<text class="b" x="1318" y="2216" textLength="110" lengthAdjust="spacingAndGlyphs">15’602</text>
<text class="r" x="1444" y="2216" textLength="78" lengthAdjust="spacingAndGlyphs">-8’3</text>
<text class="pr" x="1523" y="2202" textLength="16" lengthAdjust="spacingAndGlyphs">%</text>

<text class="h" x="1393" y="2333" textLength="162" lengthAdjust="spacingAndGlyphs">Terceros</text>
<text class="u" x="1572" y="2333" textLength="49" lengthAdjust="spacingAndGlyphs">Mhl</text>
<text class="l" x="1393" y="2375" textLength="71" lengthAdjust="spacingAndGlyphs">5’870</text>
<text class="s" x="1473" y="2375" textLength="17" lengthAdjust="spacingAndGlyphs">&lt;</text>
<text class="b" x="1500" y="2375" textLength="93" lengthAdjust="spacingAndGlyphs">5’876</text>
<text class="g" x="1608" y="2375" textLength="88" lengthAdjust="spacingAndGlyphs">+0’1</text>
<text class="pg" x="1697" y="2361" textLength="12" lengthAdjust="spacingAndGlyphs">%</text>
</svg>
</body></html>
